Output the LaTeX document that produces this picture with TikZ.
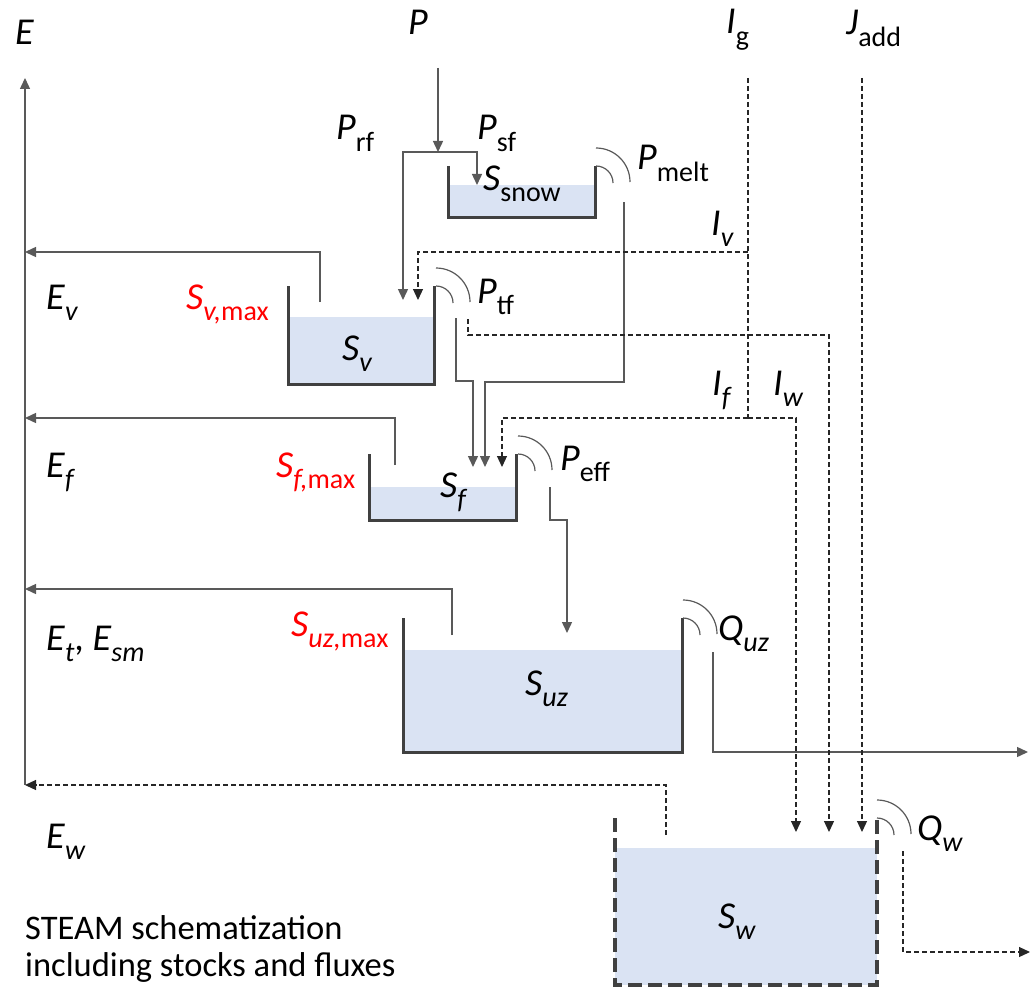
\documentclass[tikz,border=0pt]{standalone}
\usepackage{fontspec}
\setmainfont{Carlito}
\usetikzlibrary{arrows.meta}
\definecolor{linegray}{HTML}{595959}
\definecolor{wallgray}{HTML}{404040}
\definecolor{water}{HTML}{DAE3F3}
\newcommand\sub[1]{\raisebox{-0.3em}{\fontsize{28}{28}\selectfont #1}}
\newcommand\var[2]{\textit{#1}\sub{#2}}
% open tank: [style]{x left}{y top}{x right}{y bottom}{water level}
\newcommand\tank[6][wall]{%
  \fill[water] (#2,#6) rectangle (#4,#5);
  \draw[#1] (#2,#3) -- (#2,#5) -- (#4,#5) -- (#4,#3);}
% overflow marks at the top right corner of a tank
\newcommand\spillover[2]{%
  \draw[spill] (#1,#2) arc[start angle=-90,end angle=0,radius=17];
  \draw[spill] (#1,#2-18) arc[start angle=-90,end angle=0,radius=34];}
\begin{document}
\begin{tikzpicture}[x=1pt,y=-1pt,every node/.style={font=\fontsize{38}{42}\selectfont,inner sep=0pt,anchor=base west}]
  \tikzset{
    flow/.style={linegray,line width=1.4pt},
    dflow/.style={black!85,line width=1.2pt,dash pattern=on 5pt off 3pt},
    tip/.style={-{Triangle[length=11pt,width=10pt]}},
    wall/.style={wallgray,line width=3pt},
    dwall/.style={wallgray,line width=3.2pt,dash pattern=on 14pt off 6pt},
    spill/.style={linegray,line width=1.2pt},
    limit/.style={red}
  }
  \useasboundingbox (0,0) rectangle (1035,987);

  % tanks
  \tank{448}{166}{595}{217}{185}
  \tank{288}{286}{434}{384}{317}
  \tank{369}{454}{516}{520}{487}
  \tank{403}{618}{682}{752}{650}
  \tank[dwall]{615}{818}{877}{985}{848}
  \spillover{596}{166}
  \spillover{436}{286}
  \spillover{518}{454}
  \spillover{683}{618}
  \spillover{877}{818}

  % labels
  \node (E) at (15,45) {\textit{E}};
  \node (P) at (408,35) {\textit{P}};
  \node (Ig) at (726,34) {\var{I}{g}};
  \node (Jadd) at (846,35) {\var{J}{add}};
  \node (Prf) at (336,140) {\var{P}{rf}};
  \node (Psf) at (477,140) {\var{P}{sf}};
  \node (Ssnow) at (483,190) {\var{S}{snow}};
  \node (Pmelt) at (637,170) {\var{P}{melt}};
  \node (Iv) at (711,235) {\var{I}{\textit{v}}};
  \node (Ev) at (46,309) {\var{E}{\textit{v}}};
  \node[limit] (Svmax) at (186,309) {\var{S}{\textit{v,}max}};
  \node (Ptf) at (477,303) {\var{P}{tf}};
  \node (Sv) at (342,360) {\var{S}{\textit{v}}};
  \node (If) at (712,395) {\var{I}{\textit{f}}};
  \node (Iw) at (773,395) {\var{I}{\textit{w}}};
  \node (Ef) at (46,477) {\var{E}{\textit{f}}};
  \node[limit] (Sfmax) at (276,477) {\var{S}{\textit{f,}max}};
  \node (Sf) at (440,497) {\var{S}{\textit{f}}};
  \node (Peff) at (560,470) {\var{P}{eff}};
  \node (Et) at (46,650) {\var{E}{\textit{t}}, \var{E}{\textit{sm}}};
  \node[limit] (Suzmax) at (291,636) {\var{S}{\textit{uz,}max}};
  \node (Quz) at (718,640) {\var{Q}{\textit{uz}}};
  \node (Suz) at (525,695) {\var{S}{\textit{uz}}};
  \node (Ew) at (46,848) {\var{E}{\textit{w}}};
  \node (Qw) at (917,840) {\var{Q}{\textit{w}}};
  \node (Sw) at (718,928) {\var{S}{\textit{w}}};
  \node[font=\fontsize{34.5}{40}\selectfont] (note1) at (25,939) {STEAM schematization};
  \node[font=\fontsize{34.5}{40}\selectfont] (note2) at (25,976) {including stocks and fluxes};

  % connector ends
  \coordinate (axbot) at (25,785);
  \coordinate (axtop) at (25,78);
  \coordinate (evout) at (320,302);
  \coordinate (ev) at (25,252);
  \coordinate (efout) at (395,465);
  \coordinate (ef) at (25,418);
  \coordinate (etout) at (452,635);
  \coordinate (et) at (25,589);
  \coordinate (ewout) at (666,835);
  \coordinate (ew) at (25,785);
  \coordinate (ptop) at (438,68);
  \coordinate (psplit) at (438,152);
  \coordinate (psnow) at (477,185);
  \coordinate (pveg) at (403,300);
  \coordinate (igtop) at (748,78);
  \coordinate (ivjoin) at (748,252);
  \coordinate (ivin) at (418,300);
  \coordinate (ifjoin) at (748,418);
  \coordinate (ifin) at (502,467);
  \coordinate (iwin) at (796,832);
  \coordinate (ptfdash) at (468,319);
  \coordinate (ptfcorner) at (829,335);
  \coordinate (ptfwin) at (829,832);
  \coordinate (jtop) at (862,78);
  \coordinate (jin) at (862,832);
  \coordinate (ptfout) at (456,318);
  \coordinate (ptfjog) at (473,381);
  \coordinate (ptfin) at (473,467);
  \coordinate (meltout) at (624,202);
  \coordinate (meltjog) at (485,382);
  \coordinate (meltin) at (485,467);
  \coordinate (effout) at (550,487);
  \coordinate (effjog) at (567,520);
  \coordinate (effin) at (567,633);
  \coordinate (quzout) at (713,652);
  \coordinate (quzend) at (1028,752);
  \coordinate (qwout) at (903,851);
  \coordinate (qwend) at (1030,952);

  % evaporation
  \draw[flow,tip] (axbot) -- (axtop);
  \draw[flow,tip] (evout) |- (ev);
  \draw[flow,tip] (efout) |- (ef);
  \draw[flow,tip] (etout) |- (et);
  \draw[dflow,tip] (ewout) |- (ew);

  % precipitation and melt
  \draw[flow,tip] (ptop) -- (psplit);
  \draw[flow,tip] (psplit) -| (pveg);
  \draw[flow,tip] (psplit) -| (psnow);
  \draw[flow,tip] (ptfout) |- (ptfjog) -- (ptfin);
  \draw[flow,tip] (meltout) |- (meltjog) -- (meltin);
  \draw[flow,tip] (effout) |- (effjog) -- (effin);
  \draw[flow,tip] (quzout) |- (quzend);

  % irrigation and wetland flows
  \draw[dflow] (igtop) -- (ifjoin);
  \draw[dflow,tip] (ivjoin) -| (ivin);
  \draw[dflow,tip] (ifjoin) -| (ifin);
  \draw[dflow,tip] (ifjoin) -| (iwin);
  \draw[dflow,tip] (ptfdash) |- (ptfcorner) -- (ptfwin);
  \draw[dflow,tip] (jtop) -- (jin);
  \draw[dflow,tip] (qwout) |- (qwend);
\end{tikzpicture}
\end{document}
